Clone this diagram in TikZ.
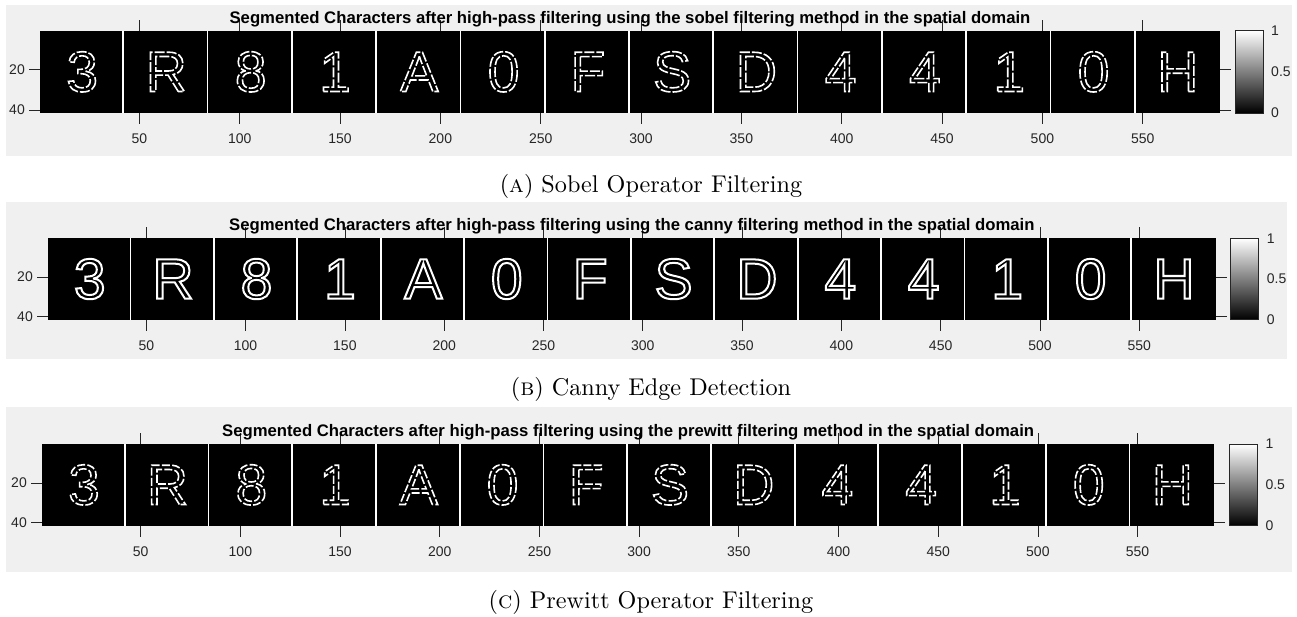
\documentclass[tikz,border=0pt]{standalone}
\usepackage{fontspec}
\newfontfamily\matfont{Liberation Sans}
\newfontfamily\platefont{Liberation Sans}

\definecolor{figbg}{HTML}{F0F0F0}
\definecolor{axiscol}{HTML}{262626}

\tikzset{
  tickline/.style={draw=axiscol, line width=0.7pt},
  ticklabel/.style={inner sep=0pt, text=axiscol, font=\matfont\fontsize{14}{14}\selectfont},
  titletext/.style={inner sep=0pt, text=black, font=\matfont\bfseries\fontsize{16.7}{16.7}\selectfont},
  captext/.style={inner sep=0pt, text=black},
  charnode/.style={inner sep=0pt, text=white, font=\platefont\fontsize{57}{57}\selectfont},
  sepline/.style={draw=white, line width=1.8pt},
}

% glyph drawn as its stroked outline only (edge image)
\def\edgepen{1.5 w}
\newcommand\edgechar[1]{%
  \special{pdf:literal direct \edgepen\space 1 Tr}#1\special{pdf:literal direct 0 Tr [] 0 d}}

% caption in 10pt Latin Modern, enlarged
\newcommand\captiontext[1]{\scalebox{2.42}{\fontsize{10}{12}\selectfont #1}}

% One figure panel: #1 id, #2 image left, #3 image right, #4 image top,
% #5 background top, #6 background bottom, #7 background right,
% #8 filtering method, #9 caption
\newcommand\platepanel[9]{%
  \pgfmathsetmacro\pL{#2}%
  \pgfmathsetmacro\pR{#3}%
  \pgfmathsetmacro\pT{#4}%
  \pgfmathsetmacro\ps{(\pR-\pL)/588}%
  \pgfmathsetmacro\pB{\pT+41*\ps}%
  \pgfmathsetmacro\pM{(\pT+\pB)/2}%
  % figure background
  \fill[figbg] (6,#5) rectangle (#7,#6);
  % image area
  \fill[black] (\pL,\pT) rectangle (\pR,\pB);
  % separators between the segmented characters
  \foreach \k in {1,...,13}{%
    \pgfmathsetmacro\sx{\pL+(42*\k-0.5)*\ps}%
    \draw[sepline] (\sx,\pT) -- (\sx,\pB);
  }
  % edge images of the characters
  \foreach \c [count=\i] in {3,R,8,1,A,0,F,S,D,4,4,1,0,H}{%
    \pgfmathsetmacro\cx{\pL+(42*\i-21)*\ps}%
    \node[charnode] (#1-ch\i) at (\cx,\pM) {\edgechar{\c}};
  }
  % x ticks (top and bottom) with labels
  \foreach \u in {50,100,...,550}{%
    \pgfmathsetmacro\tx{\pL+(\u-0.5)*\ps}%
    \draw[tickline] (\tx,\pB) -- ++(0,11);
    \draw[tickline] (\tx,\pT) -- ++(0,-11);
    \node[ticklabel] (#1-xl\u) at (\tx,\pB+26) {\u};
  }
  % y ticks (left and right) with labels
  \foreach \v in {20,40}{%
    \pgfmathsetmacro\ty{\pT+(\v-0.5)*\ps}%
    \draw[tickline] (\pL,\ty) -- ++(-11,0);
    \draw[tickline] (\pR,\ty) -- ++(11,0);
    \node[ticklabel, anchor=east] (#1-yl\v) at (\pL-15,\ty) {\v};
  }
  % colour bar
  \shade[top color=white, bottom color=black] (\pR+15,\pT) rectangle (\pR+43,\pB);
  \draw[axiscol, line width=0.6pt] (\pR+15,\pT) rectangle (\pR+43,\pB);
  \node[ticklabel, anchor=west] (#1-cb1) at (\pR+51,\pT) {1};
  \node[ticklabel, anchor=west] (#1-cb2) at (\pR+51,\pM) {0.5};
  \node[ticklabel, anchor=west] (#1-cb3) at (\pR+51,\pB) {0};
  % title and caption
  \node[titletext, anchor=base] (#1-title) at ({(\pL+\pR)/2},\pT-7.4)
    {Segmented Characters after high-pass filtering using the #8 filtering method in the spatial domain};
  \node[captext, anchor=base] (#1-cap) at (651,#6+36.5) {\captiontext{#9}};
}

\begin{document}
\begin{tikzpicture}[x=1pt, y=-1pt]
  \useasboundingbox[fill=white] (0,0) rectangle (1297,616);
  \def\edgepen{1.6 w [10 2] 0 d}
  \platepanel{sob}{40}{1220}{30.7}{5}{156}{1292}{sobel}{(\textsc{a}) Sobel Operator Filtering}
  \def\edgepen{2 w}
  \platepanel{can}{48}{1215.7}{238.3}{202}{359}{1287}{canny}{(\textsc{b}) Canny Edge Detection}
  \def\edgepen{1.6 w [8 2.2] 0 d}
  \platepanel{pre}{42}{1214.3}{444}{406.7}{571.7}{1292}{prewitt}{(\textsc{c}) Prewitt Operator Filtering}
\end{tikzpicture}
\end{document}
